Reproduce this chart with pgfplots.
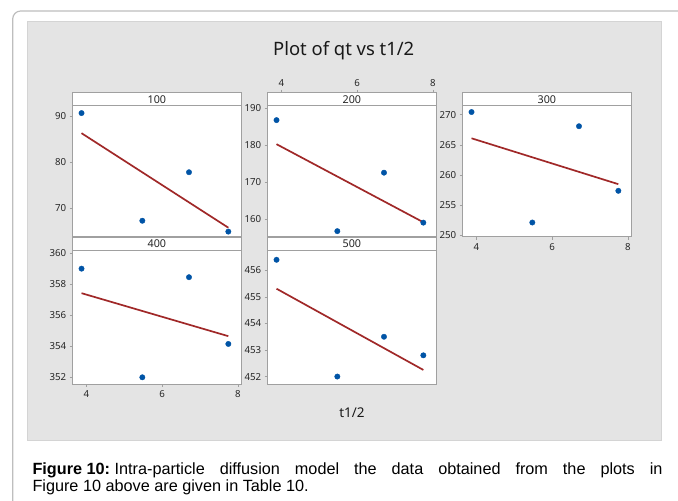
\documentclass[border=0pt]{standalone}
\usepackage{fontspec}
\setmainfont{Noto Sans}
\newfontfamily\capfont{Liberation Sans}
\usepackage{pgfplots}
\pgfplotsset{compat=1.18}
\definecolor{bggray}{RGB}{228,228,228}
\definecolor{bgborder}{RGB}{212,212,212}
\definecolor{framegray}{RGB}{190,190,190}
\definecolor{axgray}{RGB}{160,160,160}
\definecolor{ptblue}{RGB}{0,84,166}
\definecolor{fitred}{RGB}{160,40,40}
\pgfplotsset{
  panel/.style={scale only axis, width=168.3bp, xmin=3.64, xmax=8.08,
    axis line style={draw=axgray, line width=0.8pt},
    axis background/.style={fill=white},
    tick align=outside, major tick length=3bp,
    tick style={draw=axgray, line width=0.6pt},
    xtick=\empty, ytick pos=left,
    ticklabel style={font=\fontsize{9.7}{10}\selectfont, text=black!85},
    /pgf/number format/assume math mode=true,
    clip=false},
  hdr/.style={scale only axis, width=168.3bp, height=13bp, xmin=3.64, xmax=8.08,
    ymin=0, ymax=1, xtick=\empty, ytick=\empty,
    axis line style={draw=axgray, line width=0.8pt},
    axis background/.style={fill=white},
    tick align=outside, major tick length=3bp,
    tick style={draw=axgray, line width=0.6pt},
    ticklabel style={font=\fontsize{9.7}{10}\selectfont, text=black!85},
    /pgf/number format/assume math mode=true},
  pts/.style={only marks, mark=*, mark size=2.7bp, color=ptblue},
  fit/.style={no marks, color=fitred, line width=1.7pt},
}
\newcommand{\hlabel}[1]{\node[font=\fontsize{10.8}{11}\selectfont, text=black!85] at (rel axis cs:0.5,0.5) {#1};}
\begin{document}
\begin{tikzpicture}
\useasboundingbox (0,0) rectangle (678bp,501bp);
\fill[white] (0,0) rectangle (678bp,501bp);
\draw[framegray, line width=1.2bp, rounded corners=8bp] (12.7bp,-10bp) |- (700bp,490bp);
\filldraw[fill=bggray, draw=bgborder, line width=0.8bp] (27.3bp,61bp) rectangle (661.7bp,480bp);
\node[anchor=base, font=\fontsize{18.5}{20}\selectfont, text=black!90] at (343.7bp,445.3bp) {Plot of qt vs t1/2};
\node[anchor=center, font=\fontsize{13.5}{15}\selectfont, text=black!90] at (352bp,88bp) {t1/2};

% ---- Panel 100
\begin{axis}[hdr, at={(72.7bp,408.3bp)}, anchor=north west]
\hlabel{100}
\end{axis}
\begin{axis}[panel, at={(72.7bp,395.3bp)}, anchor=north west, height=131bp,
  ymin=63.85, ymax=92.2, ytick={70,80,90}]
\addplot[pts] coordinates {(3.873,90.6) (5.477,67.3) (6.708,77.8) (7.746,64.95)};
\addplot[fit] coordinates {(3.873,86.25) (7.746,65.8)};
\end{axis}

% ---- Panel 200
\begin{axis}[hdr, at={(267.7bp,408.3bp)}, anchor=north west,
  xtick={4,6,8}, xtick pos=upper, xticklabel pos=upper]
\hlabel{200}
\end{axis}
\begin{axis}[panel, at={(267.7bp,395.3bp)}, anchor=north west, height=131bp,
  ymin=155.3, ymax=190.7, ytick={160,170,180,190}]
\addplot[pts] coordinates {(3.873,186.8) (5.477,156.8) (6.708,172.6) (7.746,159.1)};
\addplot[fit] coordinates {(3.873,180.3) (7.746,159.2)};
\end{axis}

% ---- Panel 300
\begin{axis}[hdr, at={(462.7bp,408.3bp)}, anchor=north west]
\hlabel{300}
\end{axis}
\begin{axis}[panel, at={(462.7bp,395.3bp)}, anchor=north west, height=131bp,
  ymin=249.8, ymax=271.5, ytick={250,255,260,265,270},
  xtick={4,6,8}, xtick pos=lower]
\addplot[pts] coordinates {(3.873,270.45) (5.477,252.15) (6.708,268.1) (7.746,257.4)};
\addplot[fit] coordinates {(3.873,266.1) (7.746,258.5)};
\end{axis}

% ---- Panel 400
\begin{axis}[hdr, at={(72.7bp,263.5bp)}, anchor=north west]
\hlabel{400}
\end{axis}
\begin{axis}[panel, at={(72.7bp,250.5bp)}, anchor=north west, height=133.5bp,
  ymin=351.57, ymax=360.17, ytick={352,354,356,358,360},
  xtick={4,6,8}, xtick pos=lower]
\addplot[pts] coordinates {(3.873,359.0) (5.477,352.0) (6.708,358.45) (7.746,354.15)};
\addplot[fit] coordinates {(3.873,357.42) (7.746,354.65)};
\end{axis}

% ---- Panel 500
\begin{axis}[hdr, at={(267.7bp,263.5bp)}, anchor=north west]
\hlabel{500}
\end{axis}
\begin{axis}[panel, at={(267.7bp,250.5bp)}, anchor=north west, height=133.5bp,
  ymin=451.72, ymax=456.75, ytick={452,453,454,455,456}]
\addplot[pts] coordinates {(3.873,456.4) (5.477,452.0) (6.708,453.5) (7.746,452.8)};
\addplot[fit] coordinates {(3.873,455.31) (7.746,452.25)};
\end{axis}

% ---- Caption
\node[anchor=base west, inner sep=0pt, font=\capfont\fontsize{16.3}{17}\selectfont] at (32.3bp,27bp)
  {\makebox[630bp][s]{\mbox{\textbf{Figure 10:}}\hspace{4.5bp}Intra-particle diffusion model the data obtained from the plots in}};
\node[anchor=base west, inner sep=0pt, font=\capfont\fontsize{16.3}{17}\selectfont] at (32.3bp,10bp)
  {Figure 10 above are given in Table 10.};
\end{tikzpicture}
\end{document}
